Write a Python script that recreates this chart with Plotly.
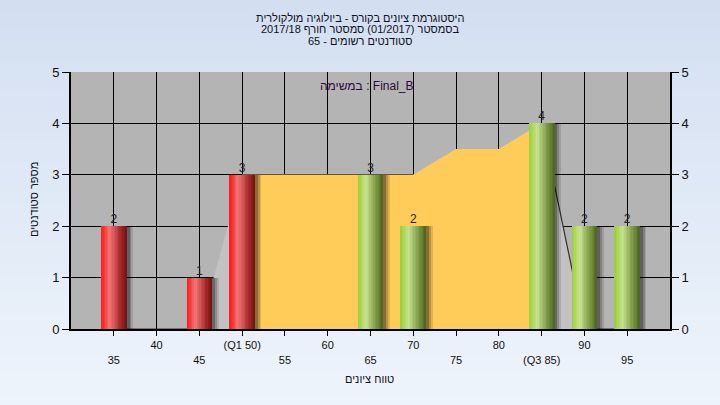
import plotly.graph_objects as go

# ---------------- data ----------------
grades = [35, 40, 45, 50, 55, 60, 65, 70, 75, 80, 85, 90, 95]
counts = [2, 0, 1, 3, 0, 0, 3, 2, 0, 0, 4, 2, 2]
q1 = 50
q3 = 85
trend_all = [0, 0, 0, 3, 3, 3, 3, 3, 3.5, 3.5, 4, 0, 0]
tick_labels = ["35", "40", "45", "(Q1 50)", "55", "60", "65", "70", "75", "80", "(Q3 85)", "90", "95"]

title_lines = [
    "היסטוגרמת ציונים בקורס - ביולוגיה מולקולרית",
    "בסמסטר (01/2017) סמסטר חורף 2017/18",
    "סטודנטים רשומים - 65",
]
x_title = "טווח ציונים"
y_title = "מספר סטודנטים"
task_label = "במשימה : Final_B"

# ---------------- layout geometry ----------------
W, H = 720, 405
L, R, T, B = 71, 50, 72, 76
PW, PH = W - L - R, H - T - B

def px(p):
    return (p - L) / PW

def py(p):
    return (H - B - p) / PH

FONT = "Liberation Sans, Arial, DejaVu Sans, sans-serif"

def hex2rgb(h):
    h = h.lstrip("#")
    return tuple(int(h[i:i + 2], 16) for i in (0, 2, 4))

def interp(stops, f):
    # stops: list of (pos, hex)
    for (p0, c0), (p1, c1) in zip(stops[:-1], stops[1:]):
        if p0 <= f <= p1:
            t = 0 if p1 == p0 else (f - p0) / (p1 - p0)
            a, b = hex2rgb(c0), hex2rgb(c1)
            return "rgb(%d,%d,%d)" % tuple(round(a[j] + (b[j] - a[j]) * t) for j in range(3))
    return stops[-1][1]

fig = go.Figure()

# background area (light grey) and inter-quartile area (yellow) -- main subplot (drawn below)
fig.add_trace(go.Scatter(
    x=grades, y=trend_all, mode="none", fill="tozeroy", fillcolor="#c2c2c2",
    hoverinfo="skip", showlegend=False))
out_lo = [(g, t) for g, t in zip(grades, trend_all) if g < q1]
out_hi = [(g, t) for g, t in zip(grades, trend_all) if g >= q3]
for seg in (out_lo, out_hi):
    fig.add_trace(go.Scatter(
        x=[s[0] for s in seg], y=[s[1] for s in seg], mode="lines",
        line=dict(color="#303030", width=1.2), hoverinfo="skip", showlegend=False))
iq_x = [g for g in grades if q1 <= g <= q3]
iq_y = [t for g, t in zip(grades, trend_all) if q1 <= g <= q3]
fig.add_trace(go.Scatter(
    x=iq_x, y=iq_y, mode="none", fill="tozeroy", fillcolor="#ffcc5a",
    hoverinfo="skip", showlegend=False))

# shadows (overlay subplot, drawn above the areas)
BW = 3.0
for off, alpha in [(0.75, 0.12), (0.55, 0.18), (0.35, 0.25)]:
    fig.add_trace(go.Bar(
        x=grades, y=counts, width=BW, offset=-BW / 2 + off, yaxis="y2",
        marker=dict(color=f"rgba(0,0,0,{alpha})", line=dict(width=0)),
        hoverinfo="skip", showlegend=False))

# cylinder-shaded bars built from vertical strips
red_grad = [(0.0, "#ff1818"), (0.12, "#ff3030"), (0.32, "#f07676"), (0.5, "#d85a5a"),
            (0.75, "#a62a2a"), (1.0, "#741010")]
green_grad = [(0.0, "#9ccd3c"), (0.12, "#aad652"), (0.32, "#c8e394"), (0.5, "#a4c06c"),
              (0.75, "#76923f"), (1.0, "#4a6420")]
N = 18
sw = BW / N
for i in range(N):
    f = (i + 0.5) / N
    cols = [interp(red_grad, f) if g <= q1 else interp(green_grad, f) for g in grades]
    fig.add_trace(go.Bar(
        x=grades, y=counts, width=min(sw * 1.6, BW - i * sw), offset=-BW / 2 + i * sw,
        yaxis="y2", marker=dict(color=cols, line=dict(width=0)),
        hoverinfo="skip", showlegend=False))

# value labels
fig.add_trace(go.Scatter(
    x=grades, y=counts, mode="text", yaxis="y2",
    text=[str(c) if c > 0 else "" for c in counts],
    textposition="top center",
    textfont=dict(family=FONT, size=12, color="#202020"),
    hoverinfo="skip", showlegend=False))

# background gradient bands (page)
shapes = []
top_c = (0xd3, 0xdf, 0xf1)
bot_c = (0xee, 0xf4, 0xfc)
nb = 40
for k in range(nb):
    f = k / (nb - 1)
    c = tuple(round(top_c[j] + (bot_c[j] - top_c[j]) * f) for j in range(3))
    y0p = k * H / nb
    y1p = (k + 1) * H / nb + 1
    shapes.append(dict(type="rect", xref="paper", yref="paper",
                       x0=px(0), x1=px(W), y0=py(y1p), y1=py(y0p),
                       fillcolor="rgb(%d,%d,%d)" % c, line=dict(width=0), layer="below"))
shapes.append(dict(type="rect", xref="paper", yref="paper", x0=0, x1=1, y0=0, y1=1,
                   fillcolor="#b4b4b4", line=dict(width=0), layer="below"))

annotations = []
for i, (line, yp) in enumerate(zip(title_lines, [18, 29.5, 41])):
    annotations.append(dict(text=line, xref="paper", yref="paper", x=px(360), y=py(yp),
                            xanchor="center", yanchor="middle", showarrow=False,
                            font=dict(family=FONT, size=11, color="#101020")))
annotations.append(dict(text=x_title, xref="paper", yref="paper", x=px(369), y=py(379),
                        xanchor="center", yanchor="middle", showarrow=False,
                        font=dict(family=FONT, size=11, color="#101020")))
annotations.append(dict(text=y_title, xref="paper", yref="paper", x=px(34), y=py(200),
                        xanchor="center", yanchor="middle", showarrow=False, textangle=-90,
                        font=dict(family=FONT, size=11, color="#101020")))
annotations.append(dict(text=task_label, xref="paper", yref="paper", x=px(367), y=py(86),
                        xanchor="center", yanchor="middle", showarrow=False,
                        font=dict(family=FONT, size=12, color="#2a0a3a")))

ticktext = [t if i % 2 == 1 else "<br>" + t for i, t in enumerate(tick_labels)]

fig.update_layout(
    width=W, height=H,
    margin=dict(l=L, r=R, t=T, b=B, pad=0),
    paper_bgcolor="#e2ebf7", plot_bgcolor="rgba(0,0,0,0)",
    barmode="overlay", bargap=0,
    shapes=shapes, annotations=annotations,
    xaxis=dict(range=[30, 100], tickmode="array", tickvals=grades, ticktext=ticktext,
               showgrid=True, gridcolor="#000000", gridwidth=1, zeroline=False,
               ticks="outside", ticklen=5, tickcolor="#000000",
               showline=True, linecolor="#000000", linewidth=2, mirror=False,
               tickfont=dict(family=FONT, size=11, color="#101010")),
    yaxis=dict(range=[0, 5], dtick=1, showgrid=True, gridcolor="#000000", gridwidth=1,
               zeroline=False, ticks="outside", ticklen=7, tickcolor="#000000",
               showline=True, linecolor="#000000", linewidth=2, mirror=False,
               tickfont=dict(family=FONT, size=13, color="#101010")),
    yaxis2=dict(range=[0, 5], dtick=1, overlaying="y", side="right", showgrid=False,
                zeroline=False, ticks="outside", ticklen=7, tickcolor="#000000",
                showline=True, linecolor="#000000", linewidth=2,
                tickfont=dict(family=FONT, size=13, color="#101010")),
)

fig.write_html("out.html", config={"displayModeBar": False},
               post_script="document.body.style.margin='0';document.body.style.background='#e2ebf7';")
